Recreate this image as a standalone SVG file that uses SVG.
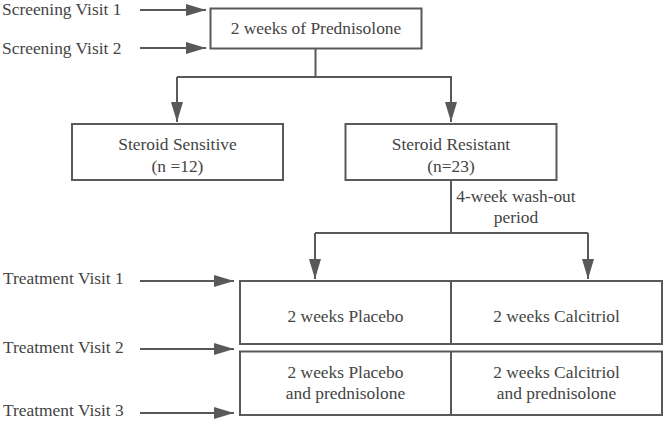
<svg xmlns="http://www.w3.org/2000/svg" width="664" height="421" viewBox="0 0 664 421">
<style>
.c{text-anchor:middle}
.box{fill:#fff;stroke:#595959;stroke-width:2}
.ln{fill:none;stroke:#595959;stroke-width:2}
text{font-family:'Liberation Serif','Times New Roman','DejaVu Serif',serif;font-size:17.4px;fill:#444}
</style>
<defs>
<marker id="ah" viewBox="0 0 20 12" refX="20" refY="6" markerWidth="20" markerHeight="12" markerUnits="userSpaceOnUse" orient="auto">
<path d="M0,0L20,6L0,12z" fill="#595959"/>
</marker>
</defs>
<rect width="664" height="421" fill="#fff"/>
<g id="connectors">
<line class="ln" x1="140" y1="10" x2="206" y2="10" marker-end="url(#ah)"/>
<line class="ln" x1="140" y1="48" x2="206" y2="48" marker-end="url(#ah)"/>
<polyline class="ln" points="315.5,48 315.5,77"/>
<polyline class="ln" points="177,77 451,77 451,122" marker-end="url(#ah)"/>
<line class="ln" x1="177" y1="77" x2="177" y2="122" marker-end="url(#ah)"/>
<line class="ln" x1="451" y1="180" x2="451" y2="233"/>
<polyline class="ln" points="315,233 588,233"/>
<line class="ln" x1="315" y1="233" x2="315" y2="279" marker-end="url(#ah)"/>
<line class="ln" x1="588" y1="233" x2="588" y2="279" marker-end="url(#ah)"/>
<line class="ln" x1="140" y1="281" x2="234" y2="281" marker-end="url(#ah)"/>
<line class="ln" x1="140" y1="349" x2="234" y2="349" marker-end="url(#ah)"/>
<line class="ln" x1="140" y1="413" x2="234" y2="413" marker-end="url(#ah)"/>
<text class="c" x="516" y="202">4-week wash-out</text>
<text class="c" x="516" y="223">period</text>
</g>
<g id="screening1"><text x="2" y="15">Screening Visit 1</text></g>
<g id="screening2"><text x="2" y="54">Screening Visit 2</text></g>
<g id="treat1"><text x="3" y="284">Treatment Visit 1</text></g>
<g id="treat2"><text x="3" y="353">Treatment Visit 2</text></g>
<g id="treat3"><text x="3" y="416">Treatment Visit 3</text></g>
<g id="prednisolone">
<rect class="box" x="210.5" y="8.5" width="211" height="40"/>
<text class="c" x="316" y="34">2 weeks of Prednisolone</text>
</g>
<g id="sensitive">
<rect class="box" x="72" y="124" width="211" height="56"/>
<text class="c" x="177.5" y="150">Steroid Sensitive</text>
<text class="c" x="177.5" y="172">(n =12)</text>
</g>
<g id="resistant">
<rect class="box" x="345.5" y="124" width="211" height="56"/>
<text class="c" x="451" y="150">Steroid Resistant</text>
<text class="c" x="451" y="172">(n=23)</text>
</g>
<g id="phase1">
<rect class="box" x="240" y="281" width="422" height="63"/>
<line class="ln" x1="451" y1="281" x2="451" y2="344"/>
<text class="c" x="345.5" y="322">2 weeks Placebo</text>
<text class="c" x="556.5" y="322">2 weeks Calcitriol</text>
</g>
<g id="phase2">
<rect class="box" x="240" y="351.5" width="422" height="63.5"/>
<line class="ln" x1="451" y1="351.5" x2="451" y2="415"/>
<text class="c" x="345.5" y="378">2 weeks Placebo</text>
<text class="c" x="345.5" y="399">and prednisolone</text>
<text class="c" x="556.5" y="378">2 weeks Calcitriol</text>
<text class="c" x="556.5" y="399">and prednisolone</text>
</g>
</svg>
